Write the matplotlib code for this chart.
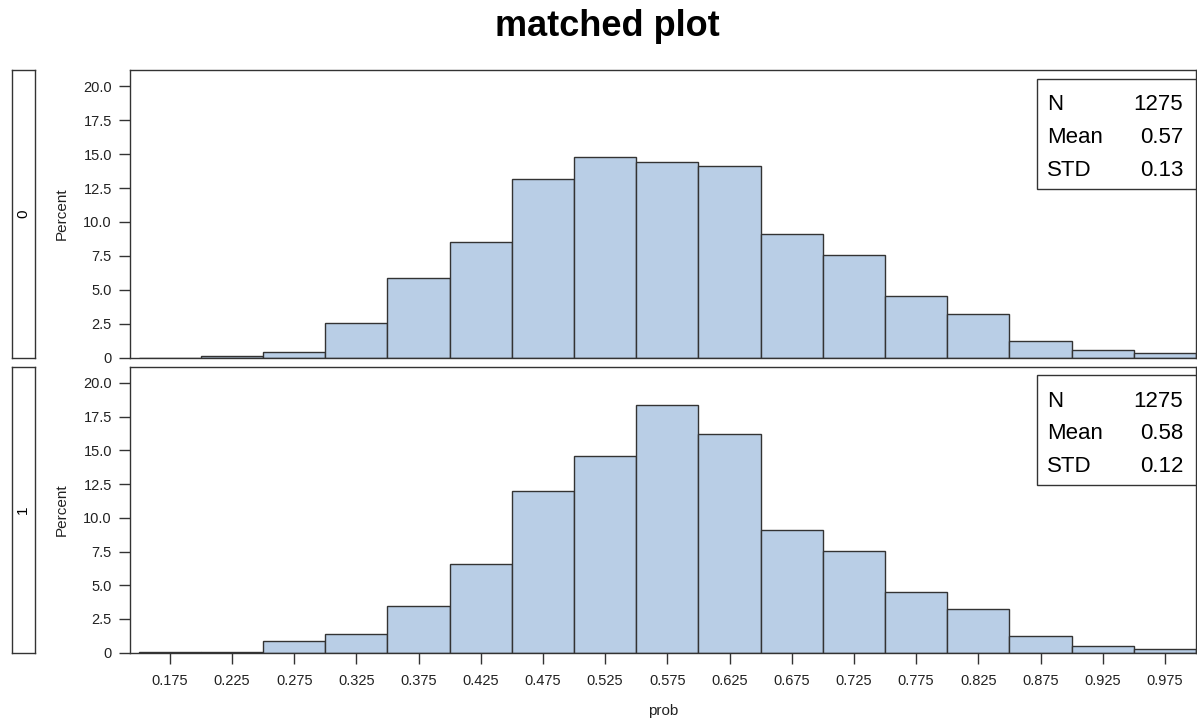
import matplotlib
matplotlib.use("Agg")
import matplotlib.pyplot as plt
from matplotlib.patches import Rectangle

plt.rcParams['font.family'] = ['Liberation Sans', 'DejaVu Sans']

# histogram bins (midpoints) and percent per bin for each group
bin_mids = [0.175, 0.225, 0.275, 0.325, 0.375, 0.425, 0.475, 0.525, 0.575,
            0.625, 0.675, 0.725, 0.775, 0.825, 0.875, 0.925, 0.975]
pct_0 = [0.0, 0.16, 0.44, 2.54, 5.88, 8.55, 13.15, 14.8, 14.43,
         14.15, 9.14, 7.6, 4.54, 3.25, 1.26, 0.55, 0.35]
pct_1 = [0.08, 0.08, 0.9, 1.35, 3.45, 6.55, 12.0, 14.6, 18.35,
         16.2, 9.1, 7.55, 4.47, 3.22, 1.26, 0.47, 0.27]
groups = ['0', '1']
stats_n = [1275, 1275]
stats_mean = [0.57, 0.58]
stats_std = [0.13, 0.12]
yticks = [0, 2.5, 5.0, 7.5, 10.0, 12.5, 15.0, 17.5, 20.0]
ytick_labels = ['0', '2.5', '5.0', '7.5', '10.0', '12.5', '15.0', '17.5', '20.0']

bar_color = '#b9cee6'
line_color = '#333333'
W, H = 1197, 721

fig = plt.figure(figsize=(W / 100, H / 100), dpi=100)
fig.text(607 / W, 1 - 26 / H, 'matched plot', ha='center', va='center',
         fontsize=26, fontweight='bold')

# panel pixel extents (top, bottom)
panels = [(70, 357.7), (366.7, 652.7)]
left_px, right_px = 130, 1196

for i, (top, bot) in enumerate(panels):
    pct = [pct_0, pct_1][i]
    ax = fig.add_axes([left_px / W, 1 - bot / H, (right_px - left_px) / W, (bot - top) / H])
    ax.bar(bin_mids, pct, width=0.05, color=bar_color, edgecolor=line_color, linewidth=1.0)
    ax.set_xlim(0.143, 1.0)
    ax.set_ylim(0, 21.2)
    ax.set_yticks(yticks)
    ax.set_yticklabels(ytick_labels)
    ax.tick_params(axis='both', direction='out', length=8, width=1, colors=line_color,
                   labelcolor='#222222', labelsize=10.5, pad=5)
    for s in ax.spines.values():
        s.set_color(line_color)
        s.set_linewidth(1)
    ax.set_ylabel('Percent', fontsize=11, color='#222222')
    ax.yaxis.set_label_coords(-0.057, 0.5)
    if i == 1:
        ax.set_xticks(bin_mids)
        ax.set_xticklabels([f'{v:.3f}' for v in bin_mids])
        ax.tick_params(axis='x', pad=7)
        ax.set_xlabel('prob', fontsize=11, color='#222222')
        ax.xaxis.set_label_coords(0.5, -0.178)
    else:
        ax.set_xticks([])

    # stats inset box
    ax.add_patch(Rectangle((0.851, 0.587), 0.149, 0.383, transform=ax.transAxes,
                           facecolor='white', edgecolor=line_color, linewidth=1, zorder=5))
    rows = [('N', f'{stats_n[i]}'), ('Mean', f'{stats_mean[i]:.2f}'), ('STD', f'{stats_std[i]:.2f}')]
    for (lab, val), yy in zip(rows, [0.88, 0.765, 0.651]):
        ax.text(0.860, yy, lab, transform=ax.transAxes, ha='left', va='center',
                fontsize=16, zorder=6)
        ax.text(0.988, yy, val, transform=ax.transAxes, ha='right', va='center',
                fontsize=16, zorder=6)

    # group strip on the left
    sax = fig.add_axes([11.7 / W, 1 - bot / H, 23.3 / W, (bot - top) / H])
    sax.set_xticks([])
    sax.set_yticks([])
    for s in sax.spines.values():
        s.set_color(line_color)
        s.set_linewidth(1)
    sax.text(0.5, 0.5, groups[i], rotation=90, ha='center', va='center',
             fontsize=11, transform=sax.transAxes)

fig.savefig('out.png', dpi=100)
